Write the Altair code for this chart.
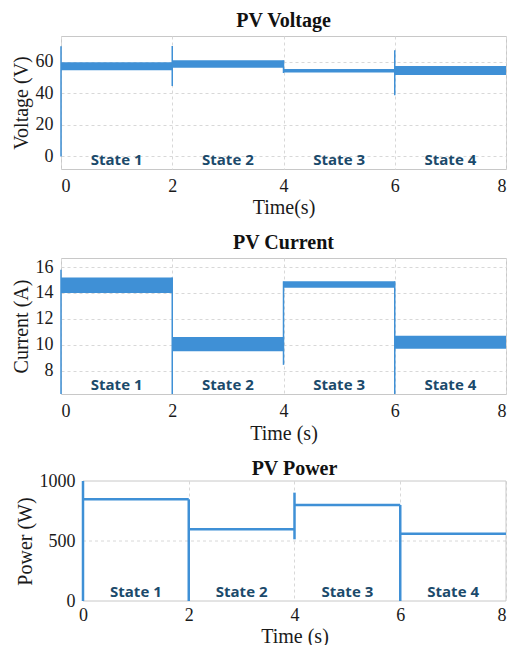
import altair as alt
import pandas as pd

# ---------------- data ----------------
state_start = [0, 2, 4, 6]
state_end = [2, 4, 6, 8]
state_mid = [1, 3, 5, 7]
state_names = ["State 1", "State 2", "State 3", "State 4"]
time_ticks = [0, 2, 4, 6, 8]

# PV voltage ripple band (V)
volt_lo = [54.8, 56.4, 53.3, 51.8]
volt_hi = [59.8, 61.1, 55.6, 57.5]
volt_spike_t = [0, 2, 4, 6]
volt_spike_lo = [0, 44.8, 53.0, 38.9]
volt_spike_hi = [70, 70.2, 61.1, 67.4]
volt_ticks = [0, 20, 40, 60]

# PV current ripple band (A)
curr_lo = [14.0, 9.5, 14.4, 9.7]
curr_hi = [15.2, 10.6, 14.9, 10.7]
curr_spike_t = [0, 2, 4, 6]
curr_spike_lo = [6.2, 6.2, 8.45, 6.2]
curr_spike_hi = [15.8, 15.2, 14.9, 14.9]
curr_ticks = [8, 10, 12, 14, 16]

# PV power levels (W)
power_level = [847, 597, 800, 561]
power_spike_t = [0, 2, 4, 6]
power_spike_lo = [0, 0, 514, 0]
power_spike_hi = [1000, 847, 903, 800]
power_ticks = [0, 500, 1000]

BLUE = "#3f90d6"
NAVY = "#1b4a6b"
SERIF = "Liberation Serif"
GRID = "#d8d8d8"
FRAME = "#c8c8c8"

bands_v = pd.DataFrame({"t0": state_start, "t1": state_end, "lo": volt_lo, "hi": volt_hi})
spk_v = pd.DataFrame({"t": volt_spike_t, "lo": volt_spike_lo, "hi": volt_spike_hi})
bands_i = pd.DataFrame({"t0": state_start, "t1": state_end, "lo": curr_lo, "hi": curr_hi})
spk_i = pd.DataFrame({"t": curr_spike_t, "lo": curr_spike_lo, "hi": curr_spike_hi})
lev_p = pd.DataFrame({"t0": state_start, "t1": state_end, "p": power_level})
spk_p = pd.DataFrame({"t": power_spike_t, "lo": power_spike_lo, "hi": power_spike_hi})
labels = pd.DataFrame({"t": state_mid, "name": state_names})


def x_enc(field, title, tpad, domain=(0, 8), grid=True, **kw):
    return alt.X(
        field, type="quantitative",
        scale=alt.Scale(domain=list(domain), nice=False),
        axis=alt.Axis(values=time_ticks, title=title, format="d", titlePadding=tpad, grid=grid, **kw),
    )


def y_enc(field, domain, ticks, title, offset=0, grid=True):
    return alt.Y(
        field, type="quantitative",
        scale=alt.Scale(domain=domain, nice=False, zero=False),
        axis=alt.Axis(values=ticks, title=title, format="d", labelOverlap=False,
                      offset=offset, grid=grid),
    )


def label_layer(h, xdom=(0, 8)):
    return (
        alt.Chart(labels)
        .mark_text(font="Open Sans", fontSize=15, fontWeight="bold", color=NAVY, baseline="bottom")
        .encode(x=alt.X("t:Q", scale=alt.Scale(domain=list(xdom), nice=False)),
                y=alt.value(h - 1), text="name:N")
    )


def title(txt, off, dx=0):
    return alt.TitleParams(txt, font=SERIF, fontSize=20, fontWeight="bold", color="#111111",
                           anchor="middle", frame="group", offset=off, dx=dx)


# ---- panel 1: voltage
W1, H1 = 445, 133
vd = [-8, 76.5]
p1 = alt.layer(
    alt.Chart(bands_v).mark_rect(color=BLUE).encode(
        x=x_enc("t0", "Time(s)", 2), x2="t1",
        y=y_enc("lo", vd, volt_ticks, "Voltage (V)"), y2="hi"),
    alt.Chart(spk_v).mark_rule(color=BLUE, strokeWidth=1.5).encode(
        x=x_enc("t", "Time(s)", 2), y=y_enc("lo", vd, volt_ticks, "Voltage (V)"), y2="hi"),
    label_layer(H1),
).properties(width=W1, height=H1, title=title("PV Voltage", 5))

# ---- panel 2: current
W2, H2 = 445, 136
cd = [6.2, 16.7]
p2 = alt.layer(
    alt.Chart(bands_i).mark_rect(color=BLUE).encode(
        x=x_enc("t0", "Time (s)", 3), x2="t1",
        y=y_enc("lo", cd, curr_ticks, "Current (A)"), y2="hi"),
    alt.Chart(spk_i).mark_rule(color=BLUE, strokeWidth=1.5).encode(
        x=x_enc("t", "Time (s)", 3), y=y_enc("lo", cd, curr_ticks, "Current (A)"), y2="hi"),
    label_layer(H2),
).properties(width=W2, height=H2, title=title("PV Current", 5))

# ---- panel 3: power (narrower plot area, shifted right inside the column)
W3, H3 = 445, 120
SHIFT = 22  # px the power plot starts to the right of the others
xdom3 = (-8 * SHIFT / (W3 - SHIFT), 8)
pdom = [0, 1000]
frame3 = pd.DataFrame({"t0": [0], "t1": [8], "lo": [pdom[0]], "hi": [pdom[1]]})
grid3 = pd.DataFrame({"t0": [0], "t1": [8], "p": [power_ticks[1]]})
xs3 = alt.Scale(domain=list(xdom3), nice=False)
ys3 = alt.Scale(domain=pdom, nice=False, zero=False)
p3 = alt.layer(
    alt.Chart(grid3).mark_rule(color=GRID, strokeDash=[3, 3], strokeWidth=1).encode(
        x=x_enc("t0", "Time (s)", 2, xdom3, titleX=SHIFT + (W3 - SHIFT) / 2, labelPadding=5), x2="t1",
        y=y_enc("p", pdom, power_ticks, "Power (W)", offset=-SHIFT, grid=False)),
    alt.Chart(frame3).mark_rect(fillOpacity=0, stroke=FRAME, strokeWidth=1).encode(
        x=alt.X("t0:Q", scale=xs3), x2="t1", y=alt.Y("lo:Q", scale=ys3), y2="hi"),
    alt.Chart(lev_p).mark_rule(color=BLUE, strokeWidth=2.5).encode(
        x=alt.X("t0:Q", scale=xs3), x2="t1", y=alt.Y("p:Q", scale=ys3)),
    alt.Chart(spk_p).mark_rule(color=BLUE, strokeWidth=2.5).encode(
        x=alt.X("t:Q", scale=xs3), y=alt.Y("lo:Q", scale=ys3), y2="hi"),
    label_layer(H3, xdom3),
).properties(width=W3, height=H3, title=title("PV Power", -7, dx=SHIFT / 2),
             view=alt.ViewConfig(stroke="transparent"))

chart = (
    alt.vconcat(p1, p2, p3, spacing=14)
    .properties(padding={"left": 10, "top": 10, "right": 0, "bottom": 0})
    .configure_view(stroke=FRAME, strokeWidth=1)
    .configure_axis(
        labelFont=SERIF, labelFontSize=18, labelColor="#1a1a1a",
        titleFont=SERIF, titleFontSize=20, titleFontWeight="normal", titleColor="#1a1a1a",
        gridColor=GRID, gridDash=[3, 3], gridWidth=1,
        domain=False, ticks=False,
    )
    .configure_axisX(labelPadding=8)
    .configure_axisY(labelPadding=8, titlePadding=4)
)

chart.save("out.html", embed_options={"renderer": "svg", "actions": False})
